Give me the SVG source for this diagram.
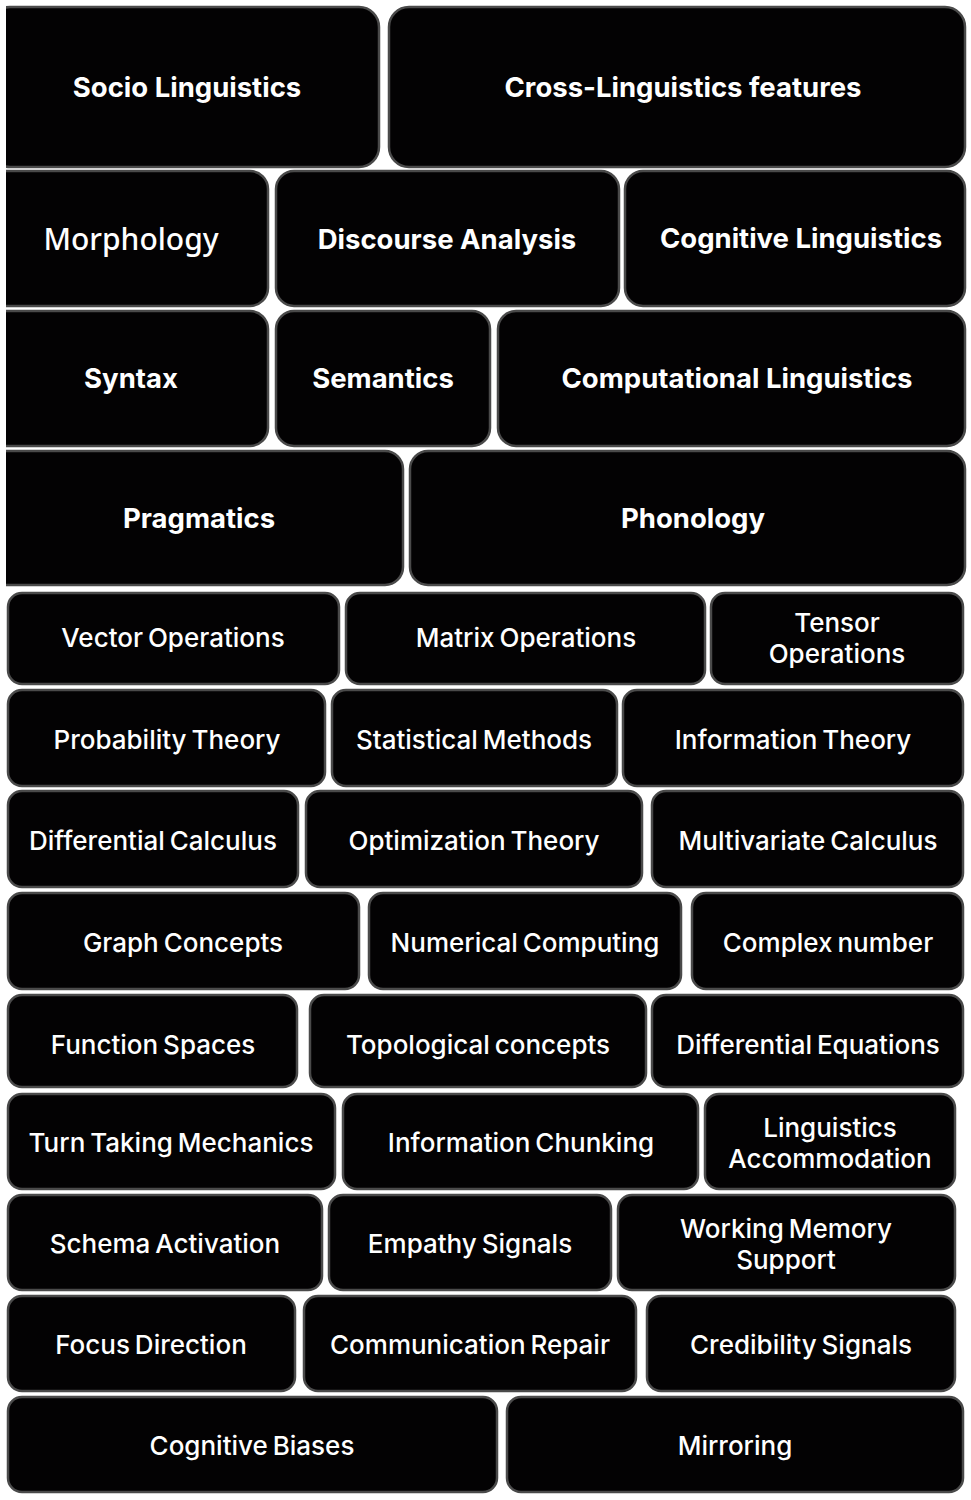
<svg xmlns="http://www.w3.org/2000/svg" width="971" height="1500" viewBox="0 0 971 1500">
<defs>
<style>
.b{fill:#030203;stroke:#4a4a4a;stroke-width:2.5}
.t{fill:#ffffff;font-family:Inter,"Noto Sans",sans-serif;text-anchor:middle;dominant-baseline:central}
.h{font-size:27.5px;font-weight:700}
.r{font-size:26px;font-weight:500;word-spacing:-2px}
.m{font-size:30px;font-weight:500;font-family:"Noto Sans",Inter,sans-serif}
</style>
<clipPath id="cl"><rect x="6" y="0" width="965" height="600"/></clipPath>
</defs>
<rect width="971" height="1500" fill="#ffffff"/>
<g clip-path="url(#cl)">
<g id="n1"><rect class="b" x="-10" y="7" width="389" height="160" rx="20"/><text class="t h" x="187" y="87">Socio Linguistics</text></g>
<g id="n2"><rect class="b" x="389" y="7" width="576" height="160" rx="20"/><text class="t h" x="683" y="87">Cross-Linguistics features</text></g>
<g id="n3"><rect class="b" x="-10" y="171" width="278" height="135" rx="18"/><text class="t m" x="131" y="238">Morphology</text></g>
<g id="n4"><rect class="b" x="276" y="171" width="343" height="135" rx="18"/><text class="t h" x="447" y="239">Discourse Analysis</text></g>
<g id="n5"><rect class="b" x="625" y="171" width="340" height="135" rx="18"/><text class="t h" x="801" y="238">Cognitive Linguistics</text></g>
<g id="n6"><rect class="b" x="-10" y="311" width="278" height="135" rx="18"/><text class="t h" x="131" y="378">Syntax</text></g>
<g id="n7"><rect class="b" x="276" y="311" width="214" height="135" rx="18"/><text class="t h" x="383" y="378">Semantics</text></g>
<g id="n8"><rect class="b" x="498" y="311" width="467" height="135" rx="18"/><text class="t h" x="737" y="378">Computational Linguistics</text></g>
<g id="n9"><rect class="b" x="-10" y="451" width="413" height="134" rx="18"/><text class="t h" x="199" y="518">Pragmatics</text></g>
<g id="n10"><rect class="b" x="410" y="451" width="555" height="134" rx="18"/><text class="t h" x="693" y="518">Phonology</text></g>
</g>
<g id="n11"><rect class="b" x="8" y="593" width="331" height="91" rx="14"/><text class="t r" x="173" y="637">Vector Operations</text></g>
<g id="n12"><rect class="b" x="346" y="593" width="359" height="91" rx="14"/><text class="t r" x="526" y="637">Matrix Operations</text></g>
<g id="n13"><rect class="b" x="711" y="593" width="252" height="91" rx="14"/><text class="t r" x="837" y="622">Tensor</text><text class="t r" x="837" y="653">Operations</text></g>
<g id="n14"><rect class="b" x="8" y="690" width="317" height="96" rx="14"/><text class="t r" x="167" y="739">Probability Theory</text></g>
<g id="n15"><rect class="b" x="332" y="690" width="285" height="96" rx="14"/><text class="t r" x="474" y="739">Statistical Methods</text></g>
<g id="n16"><rect class="b" x="623" y="690" width="340" height="96" rx="14"/><text class="t r" x="793" y="739">Information Theory</text></g>
<g id="n17"><rect class="b" x="8" y="791" width="290" height="96" rx="14"/><text class="t r" x="153" y="840">Differential Calculus</text></g>
<g id="n18"><rect class="b" x="306" y="791" width="336" height="96" rx="14"/><text class="t r" x="474" y="840">Optimization Theory</text></g>
<g id="n19"><rect class="b" x="652" y="791" width="311" height="96" rx="14"/><text class="t r" x="808" y="840">Multivariate Calculus</text></g>
<g id="n20"><rect class="b" x="8" y="893" width="351" height="96" rx="14"/><text class="t r" x="183" y="942">Graph Concepts</text></g>
<g id="n21"><rect class="b" x="369" y="893" width="312" height="96" rx="14"/><text class="t r" x="525" y="942">Numerical Computing</text></g>
<g id="n22"><rect class="b" x="692" y="893" width="271" height="96" rx="14"/><text class="t r" x="828" y="942">Complex number</text></g>
<g id="n23"><rect class="b" x="8" y="995" width="289" height="92" rx="14"/><text class="t r" x="153" y="1044">Function Spaces</text></g>
<g id="n24"><rect class="b" x="310" y="995" width="336" height="92" rx="14"/><text class="t r" x="478" y="1044">Topological concepts</text></g>
<g id="n25"><rect class="b" x="652" y="995" width="311" height="92" rx="14"/><text class="t r" x="808" y="1044">Differential Equations</text></g>
<g id="n26"><rect class="b" x="8" y="1094" width="327" height="95" rx="14"/><text class="t r" x="171" y="1142">Turn Taking Mechanics</text></g>
<g id="n27"><rect class="b" x="343" y="1094" width="355" height="95" rx="14"/><text class="t r" x="521" y="1142">Information Chunking</text></g>
<g id="n28"><rect class="b" x="705" y="1094" width="250" height="95" rx="14"/><text class="t r" x="830" y="1127">Linguistics</text><text class="t r" x="830" y="1158">Accommodation</text></g>
<g id="n29"><rect class="b" x="8" y="1195" width="314" height="95" rx="14"/><text class="t r" x="165" y="1243">Schema Activation</text></g>
<g id="n30"><rect class="b" x="329" y="1195" width="282" height="95" rx="14"/><text class="t r" x="470" y="1243">Empathy Signals</text></g>
<g id="n31"><rect class="b" x="618" y="1195" width="337" height="95" rx="14"/><text class="t r" x="786" y="1228">Working Memory</text><text class="t r" x="786" y="1259">Support</text></g>
<g id="n32"><rect class="b" x="8" y="1296" width="287" height="95" rx="14"/><text class="t r" x="151" y="1344">Focus Direction</text></g>
<g id="n33"><rect class="b" x="304" y="1296" width="332" height="95" rx="14"/><text class="t r" x="470" y="1344">Communication Repair</text></g>
<g id="n34"><rect class="b" x="647" y="1296" width="308" height="95" rx="14"/><text class="t r" x="801" y="1344">Credibility Signals</text></g>
<g id="n35"><rect class="b" x="8" y="1397" width="489" height="95" rx="14"/><text class="t r" x="252" y="1445">Cognitive Biases</text></g>
<g id="n36"><rect class="b" x="507" y="1397" width="456" height="95" rx="14"/><text class="t r" x="735" y="1445">Mirroring</text></g>
<g id="connectors"/>
</svg>
